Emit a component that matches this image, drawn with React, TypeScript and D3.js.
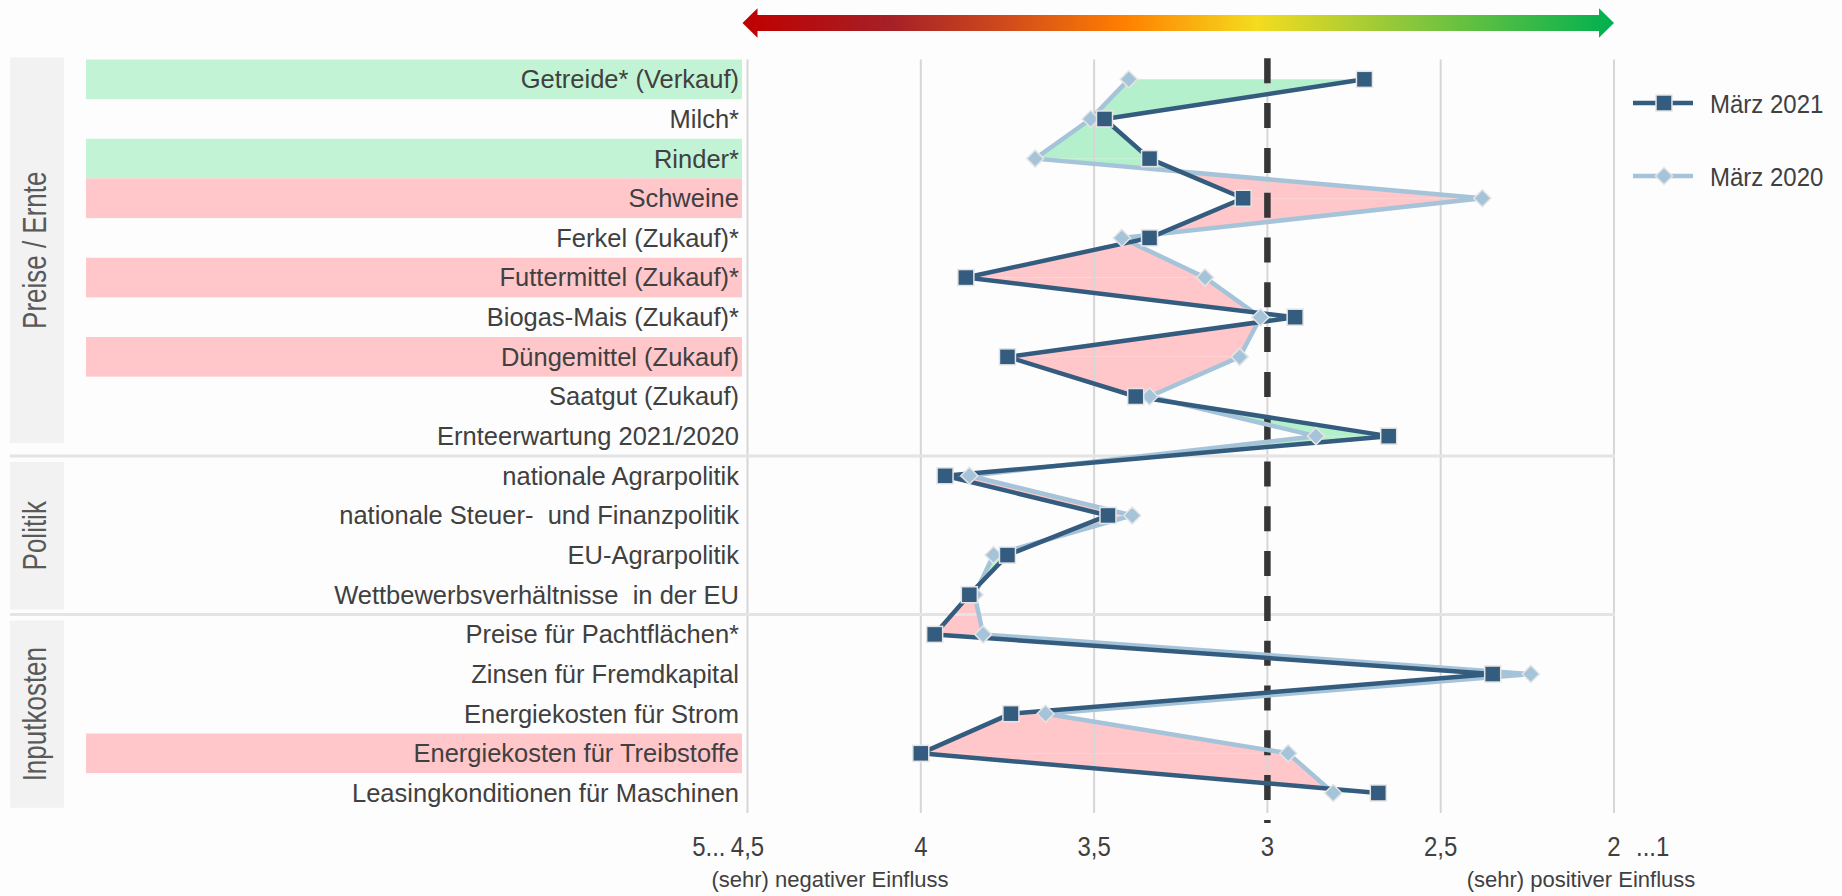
import * as d3 from 'd3'

const categories = [
  'Getreide* (Verkauf)',
  'Milch*',
  'Rinder*',
  'Schweine',
  'Ferkel (Zukauf)*',
  'Futtermittel (Zukauf)*',
  'Biogas-Mais (Zukauf)*',
  'Düngemittel (Zukauf)',
  'Saatgut (Zukauf)',
  'Ernteerwartung 2021/2020',
  'nationale Agrarpolitik',
  'nationale Steuer-  und Finanzpolitik',
  'EU-Agrarpolitik',
  'Wettbewerbsverhältnisse  in der EU',
  'Preise für Pachtflächen*',
  'Zinsen für Fremdkapital',
  'Energiekosten für Strom',
  'Energiekosten für Treibstoffe',
  'Leasingkonditionen für Maschinen',
]

// row highlight: pos = better than last year, neg = worse
const highlight = ['pos', '', 'pos', 'neg', '', 'neg', '', 'neg', '', '', '', '', '', '', '', '', '', 'neg', '']

const groupNames = ['Preise / Ernte', 'Politik', 'Inputkosten']
const groupSizes = [10, 4, 5]

const march2021 = [2.72, 3.47, 3.34, 3.07, 3.34, 3.87, 2.92, 3.75, 3.38, 2.65, 3.93, 3.46, 3.75, 3.86, 3.96, 2.35, 3.74, 4.0, 2.68]
const march2020 = [3.4, 3.51, 3.67, 2.38, 3.42, 3.18, 3.02, 3.08, 3.34, 2.86, 3.86, 3.39, 3.79, 3.845, 3.82, 2.24, 3.64, 2.94, 2.81]

const seriesNames = ['März 2021', 'März 2020']

const tickValues = [4.5, 4, 3.5, 3, 2.5, 2]
const tickLabels = ['4,5', '4', '3,5', '3', '2,5', '2']
const axisEndLabels = ['5...', '...1']
const axisTitles = ['(sehr) negativer Einfluss', '(sehr) positiver Einfluss']

const W = 1842
const H = 896
const font = "'Liberation Sans', Arial, sans-serif"
const textColor = '#404040'
const darkBlue = '#345c7e'
const lightBlue = '#a5c3d9'
const fillPos = '#b4f0cb'
const fillNeg = '#ffc7c9'
const bandPos = '#c2f3d4'
const bandNeg = '#ffc7ca'

function Square({ cx, cy }: { cx: number; cy: number }) {
  return <rect x={cx - 8} y={cy - 8} width={16} height={16} fill={darkBlue} stroke="#e4e4e4" strokeWidth={1.5} />
}

function Diamond({ cx, cy }: { cx: number; cy: number }) {
  const r = 8.5
  return (
    <path
      d={`M${cx},${cy - r}L${cx + r},${cy}L${cx},${cy + r}L${cx - r},${cy}Z`}
      fill={lightBlue}
      stroke="#e4e4e4"
      strokeWidth={1.5}
    />
  )
}

export default function App() {
  const x = d3.scaleLinear().domain([4.5, 2]).range([747.5, 1614])
  const y = d3.scaleBand<string>().domain(categories).range([59.5, 812.8])
  const bw = y.bandwidth()
  const cy = (i: number) => (y(categories[i]) ?? 0) + bw / 2

  // area between both lines, split where they cross
  const fills: { pts: [number, number][]; color: string }[] = []
  for (let i = 0; i < categories.length - 1; i++) {
    const a0 = march2021[i], b0 = march2020[i]
    const a1 = march2021[i + 1], b1 = march2020[i + 1]
    const d0 = a0 - b0, d1 = a1 - b1
    const y0 = cy(i), y1 = cy(i + 1)
    if (d0 * d1 >= 0) {
      const d = d0 !== 0 ? d0 : d1
      fills.push({
        pts: [[x(a0), y0], [x(a1), y1], [x(b1), y1], [x(b0), y0]],
        color: d < 0 ? fillPos : fillNeg,
      })
    } else {
      const t = d0 / (d0 - d1)
      const cxv = x(a0 + t * (a1 - a0))
      const cyv = y0 + t * (y1 - y0)
      fills.push({ pts: [[x(a0), y0], [cxv, cyv], [x(b0), y0]], color: d0 < 0 ? fillPos : fillNeg })
      fills.push({ pts: [[cxv, cyv], [x(a1), y1], [x(b1), y1]], color: d1 < 0 ? fillPos : fillNeg })
    }
  }

  const line = d3
    .line<number>()
    .x(d => x(d))
    .y((_, i) => cy(i))

  let start = 0
  const groups = groupNames.map((name, g) => {
    const s = start
    const e = start + groupSizes[g] - 1
    start += groupSizes[g]
    const top = (y(categories[s]) ?? 0) + (g === 0 ? -2 : 6)
    const bottom = (y(categories[e]) ?? 0) + bw - (g === 0 ? 13 : 5)
    return { name, s, e, top, bottom }
  })

  const gridTop = 59.5
  const gridBottom = 813
  const ax0 = x(4.5) - 5
  const ax1 = x(2)
  const acy = 23
  const arrow = `M${ax0},${acy}L${ax0 + 15},${acy - 14.7}L${ax0 + 15},${acy - 8}L${ax1 - 15},${acy - 8}L${ax1 - 15},${acy - 14.7}L${ax1},${acy}L${ax1 - 15},${acy + 14.7}L${ax1 - 15},${acy + 8}L${ax0 + 15},${acy + 8}L${ax0 + 15},${acy + 14.7}Z`

  return (
    <svg
      width={W}
      height={H}
      style={{ position: 'absolute', left: 0, top: 0, background: '#fdfdfd' }}
      fontFamily={font}
    >
      <defs>
        <linearGradient id="arrowGrad" gradientUnits="userSpaceOnUse" x1={ax0} x2={ax1} y1={0} y2={0}>
          <stop offset="0" stopColor="#c00000" />
          <stop offset="0.17" stopColor="#a52027" />
          <stop offset="0.3" stopColor="#cf4a1c" />
          <stop offset="0.44" stopColor="#ff8000" />
          <stop offset="0.59" stopColor="#f4dc1f" />
          <stop offset="0.75" stopColor="#93c83a" />
          <stop offset="1" stopColor="#00b050" />
        </linearGradient>
      </defs>

      <path d={arrow} fill="url(#arrowGrad)" />

      {/* highlighted rows */}
      {categories.map((c, i) =>
        highlight[i] ? (
          <rect key={c} x={86} y={y(c)} width={656} height={bw} fill={highlight[i] === 'pos' ? bandPos : bandNeg} />
        ) : null
      )}

      {/* group boxes */}
      {groups.map(g => (
        <g key={g.name}>
          <rect x={10} y={g.top} width={54} height={g.bottom - g.top} fill="#f2f2f2" />
          <text
            transform={`translate(46,${(g.top + g.bottom) / 2}) rotate(-90) scale(1,1.3)`}
            textAnchor="middle"
            fontSize={26}
            fill="#595959"
          >
            {g.name}
          </text>
        </g>
      ))}

      {/* category labels */}
      {categories.map((c, i) => (
        <text
          key={c}
          x={739}
          y={cy(i)}
          dy="0.35em"
          textAnchor="end"
          fontSize={25.5}
          fill={textColor}
          style={{ whiteSpace: 'pre' }}
        >
          {c}
        </text>
      ))}

      {/* fills between series */}
      {fills.map((f, i) => (
        <polygon key={i} points={f.pts.map(p => p.join(',')).join(' ')} fill={f.color} />
      ))}

      {/* gridlines */}
      {tickValues.map(t => (
        <line key={t} x1={x(t)} x2={x(t)} y1={gridTop} y2={gridBottom} stroke="#d6d6d6" strokeWidth={2} />
      ))}

      {/* group separators */}
      {groups.slice(1).map(g => (
        <line
          key={g.name}
          x1={10}
          x2={x(2) + 1}
          y1={y(categories[g.s])}
          y2={y(categories[g.s])}
          stroke="#e4e4e4"
          strokeWidth={3}
        />
      ))}

      {/* neutral line */}
      <line
        x1={x(3)}
        x2={x(3)}
        y1={58.3}
        y2={823}
        stroke="#363636"
        strokeWidth={6.5}
        strokeDasharray="25 19.8"
      />

      {/* series */}
      <path d={line(march2020) ?? ''} fill="none" stroke={lightBlue} strokeWidth={4.5} strokeLinejoin="round" />
      <path d={line(march2021) ?? ''} fill="none" stroke={darkBlue} strokeWidth={4.5} strokeLinejoin="round" />
      {march2020.map((v, i) => (
        <Diamond key={'d' + i} cx={x(v)} cy={cy(i)} />
      ))}
      {march2021.map((v, i) => (
        <Square key={'s' + i} cx={x(v)} cy={cy(i)} />
      ))}

      {/* x axis labels */}
      {tickValues.map((t, i) => (
        <text
          key={t}
          transform={`translate(${x(t)},856) scale(1,1.15)`}
          textAnchor="middle"
          fontSize={24}
          fill={textColor}
        >
          {tickLabels[i]}
        </text>
      ))}
      <text transform={`translate(${x(4.5) - 22},856) scale(1,1.15)`} textAnchor="end" fontSize={24} fill={textColor}>
        {axisEndLabels[0]}
      </text>
      <text transform={`translate(${x(2) + 22},856) scale(1,1.15)`} textAnchor="start" fontSize={24} fill={textColor}>
        {axisEndLabels[1]}
      </text>
      <text x={830} y={887} textAnchor="middle" fontSize={22} fill={textColor}>
        {axisTitles[0]}
      </text>
      <text x={1581} y={887} textAnchor="middle" fontSize={22} fill={textColor}>
        {axisTitles[1]}
      </text>

      {/* legend */}
      {seriesNames.map((n, i) => {
        const ly = 103 + i * 73
        return (
          <g key={n}>
            <line x1={1633} x2={1693} y1={ly} y2={ly} stroke={i === 0 ? darkBlue : lightBlue} strokeWidth={4.5} />
            {i === 0 ? <Square cx={1664} cy={ly} /> : <Diamond cx={1664} cy={ly} />}
            <text
              transform={`translate(1710,${ly}) scale(1,1.1)`}
              dy="0.36em"
              fontSize={24}
              fill={textColor}
            >
              {n}
            </text>
          </g>
        )
      })}
    </svg>
  )
}
